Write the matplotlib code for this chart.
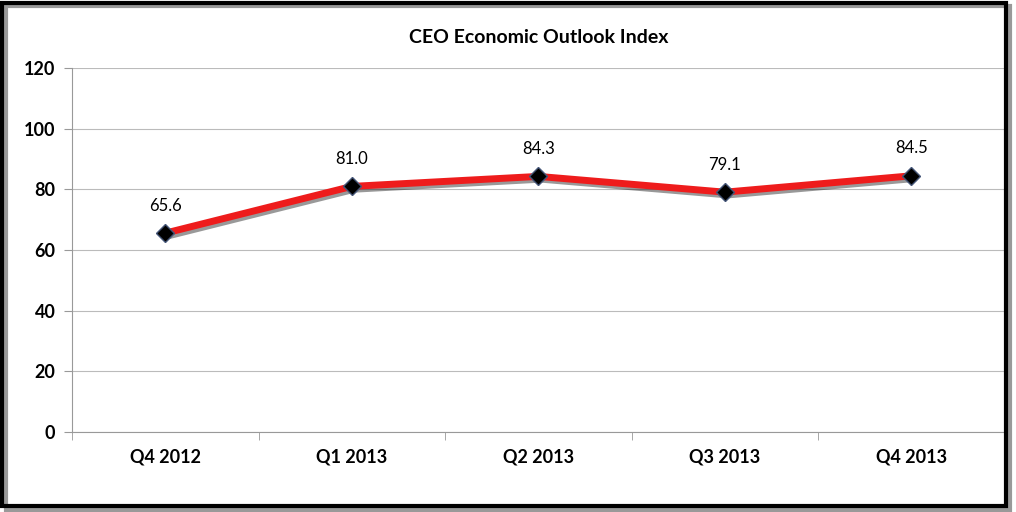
import matplotlib.pyplot as plt
import matplotlib.patheffects as pe
from matplotlib.patches import Rectangle

quarters = ['Q4 2012', 'Q1 2013', 'Q2 2013', 'Q3 2013', 'Q4 2013']
index_values = [65.6, 81.0, 84.3, 79.1, 84.5]
y_ticks = [0, 20, 40, 60, 80, 100, 120]

plt.rcParams['font.family'] = ['Lato', 'DejaVu Sans']

fig = plt.figure(figsize=[10.16, 5.12], dpi=100)

# frame around the whole chart, with a soft shadow
fig.patches.append(Rectangle((0.006, 0.004), 0.988, 0.985, transform=fig.transFigure,
                             fill=False, edgecolor='#999999', linewidth=3, zorder=0))
fig.patches.append(Rectangle((0.002, 0.012), 0.988, 0.982, transform=fig.transFigure,
                             fill=False, edgecolor='black', linewidth=3, zorder=1))

ax = fig.add_axes([0.0709, 0.156, 0.918, 0.711])
x = list(range(len(quarters)))

ax.plot(x, index_values, color='#ee1c1c', linewidth=5, solid_capstyle='round', zorder=3,
        path_effects=[pe.SimpleLineShadow(offset=(2, -2), alpha=0.4), pe.Normal()])
ax.plot(x, index_values, linestyle='none', marker='D', markersize=9, color='black',
        markeredgecolor='#445577', markeredgewidth=1, zorder=4)

for xi, v in zip(x, index_values):
    ax.annotate(f'{v:.1f}', (xi, v), xytext=(0, 14), textcoords='offset points',
                ha='center', va='bottom', fontsize=12)

ax.set_xlim(-0.5, len(quarters) - 0.5)
ax.set_ylim(0, 120)
ax.set_yticks(y_ticks)
ax.set_xticks(x)
ax.set_xticklabels(quarters, fontsize=13, fontweight='bold')
ax.set_yticks([i - 0.5 for i in range(len(quarters) + 1)], minor=True) if False else None
ax.set_xticks([i - 0.5 for i in range(len(quarters) + 1)], minor=True)
ax.tick_params(axis='x', which='major', length=0, pad=12)
ax.tick_params(axis='x', which='minor', length=6, color='#999999')
ax.tick_params(axis='y', length=6, color='#999999', labelsize=13, pad=6)
for lab in ax.get_yticklabels():
    lab.set_fontweight('bold')

ax.grid(axis='y', color='#bbbbbb', linewidth=0.8)
ax.set_axisbelow(True)
for s in ['top', 'right']:
    ax.spines[s].set_visible(False)
ax.spines['left'].set_color('#999999')
ax.spines['bottom'].set_color('#999999')

ax.set_title('CEO Economic Outlook Index', fontsize=14, fontweight='bold', pad=18)

fig.savefig('out.png', dpi=100)
